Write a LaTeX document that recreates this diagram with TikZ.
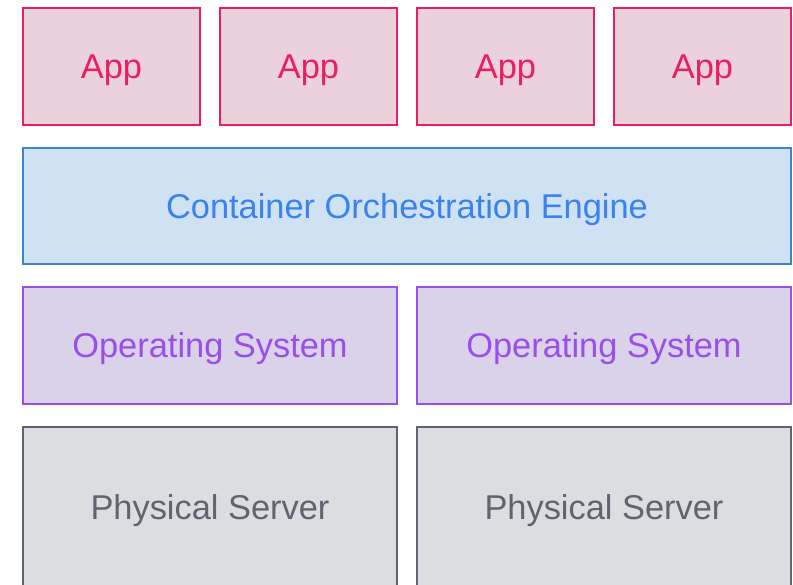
\documentclass[tikz,border=0pt]{standalone}
\usepackage{fontspec}
\setmainfont{Liberation Sans}
\definecolor{appfill}{HTML}{EAD1DC}
\definecolor{appline}{HTML}{E91E63}
\definecolor{cefill}{HTML}{CFE2F3}
\definecolor{celine}{HTML}{3D85C6}
\definecolor{cetext}{HTML}{3B82EE}
\definecolor{osfill}{HTML}{D9D2E9}
\definecolor{osline}{HTML}{9A4EEA}
\definecolor{hwfill}{HTML}{DCDDE0}
\definecolor{hwline}{HTML}{5F6570}
\begin{document}
\begin{tikzpicture}[x=1pt,y=-1pt,
    layer/.style={draw, line width=1.5pt, inner sep=0pt,
      text height=24.6pt, text depth=0pt,
      font=\fontsize{34.4}{40}\selectfont},
    appbox/.style={layer, draw=appline, fill=appfill, text=appline,
      minimum width=177pt, minimum height=117pt},
    cebox/.style={layer, draw=celine, fill=cefill, text=cetext,
      minimum width=768pt, minimum height=116pt},
    osbox/.style={layer, draw=osline, fill=osfill, text=osline,
      minimum width=374pt, minimum height=117pt},
    hwbox/.style={layer, draw=hwline, fill=hwfill, text=hwline,
      minimum width=374pt, minimum height=160pt}]
    \useasboundingbox (0,0) rectangle (793,585);
    \clip (0,0) rectangle (793,585);

    % apps
    \foreach \i/\x in {1/111.5, 2/308.5, 3/505.5, 4/702.5}
      \node[appbox] (app\i) at (\x,66.5) {App};

    % orchestration
    \node[cebox] (engine) at (407,206) {Container Orchestration Engine};

    % operating systems and servers
    \node[osbox] (os1) at (210,345.5) {Operating System};
    \node[osbox] (os2) at (604,345.5) {Operating System};
    \node[hwbox] (hw1) at (210,507) {Physical Server};
    \node[hwbox] (hw2) at (604,507) {Physical Server};
  \end{tikzpicture}
\end{document}
